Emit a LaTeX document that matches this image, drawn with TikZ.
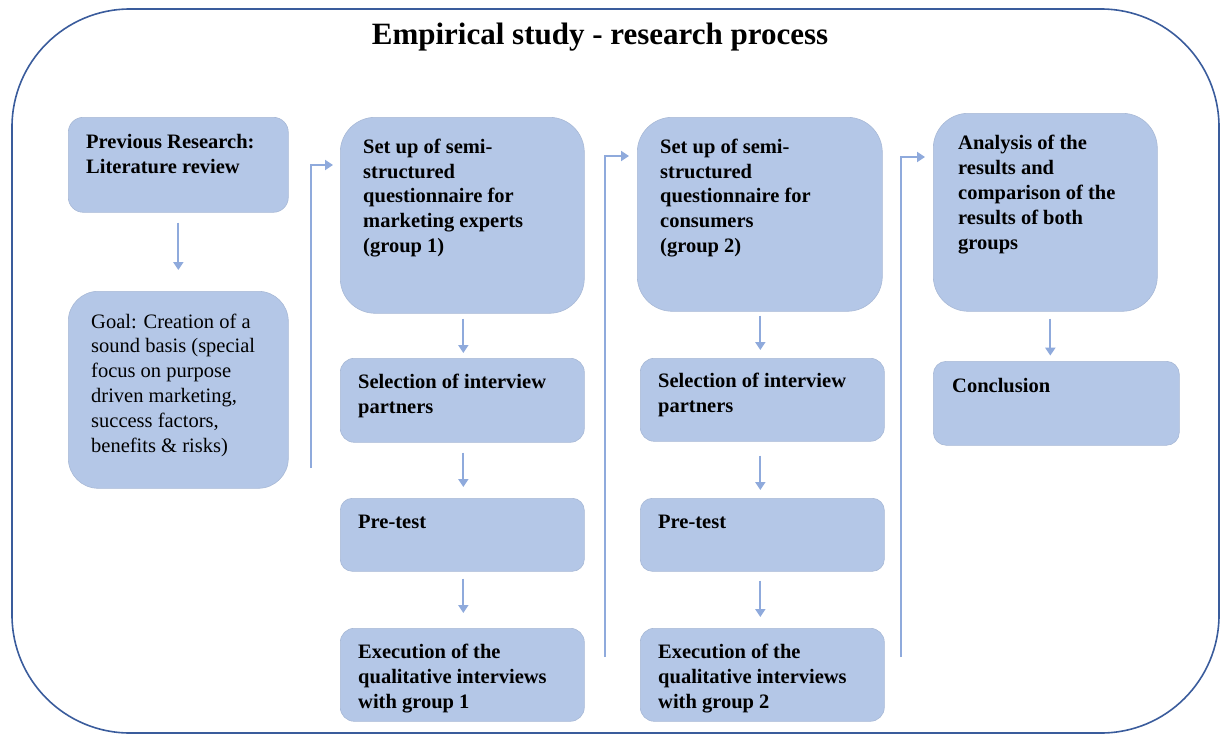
\documentclass[tikz,border=0pt]{standalone}
\usepackage{fontspec}
\setmainfont{Liberation Serif}
\usetikzlibrary{arrows.meta,calc}
\definecolor{boxfill}{RGB}{180,199,231}
\definecolor{boxline}{RGB}{168,185,214}
\definecolor{arrowblue}{RGB}{143,170,220}
\definecolor{frameblue}{RGB}{58,92,156}
\tikzset{
  stepbox/.style={draw=boxline, line width=0.6pt, fill=boxfill, inner sep=0pt, anchor=north west},
  % labels are placed by the baseline of their last line
  lbl/.style={anchor=base west, inner sep=0pt, align=left,
    font=\fontsize{20.5}{24.8}\selectfont\bfseries},
  lblplain/.style={lbl, font=\fontsize{20.5}{24.8}\selectfont},
  arr/.style={draw=arrowblue, line width=2pt,
    -{Triangle[width=10pt,length=8pt]}},
}
\begin{document}
\begin{tikzpicture}[x=1pt,y=-1pt]
\useasboundingbox (0,0) rectangle (1220,734);

% outer frame
\draw[frameblue, line width=1.6pt, rounded corners=118pt] (12,9) rectangle (1219,733);

% title
\node[anchor=base, inner sep=0pt, font=\fontsize{31}{36}\selectfont\bfseries]
  (title) at (600,44) {Empirical study - research process};

% literature column
\node[stepbox, rounded corners=15pt, minimum width=220pt, minimum height=95pt] (lit) at (68,117) {};
\node[lbl] (litT) at (86,173) {Previous Research:\\Literature review};
\node[stepbox, rounded corners=30pt, minimum width=220pt, minimum height=197pt] (goal) at (68,291) {};
\node[lblplain] (goalT) at (91,452) {Goal: Creation of a\\sound basis (special\\focus on purpose\\driven marketing,\\success factors,\\benefits \& risks)};

% group 1 column
\node[stepbox, rounded corners=35pt, minimum width=244pt, minimum height=196pt] (su1) at (340,117) {};
\node[lbl] (su1T) at (363,252.5) {Set up of semi-\\structured\\questionnaire for\\marketing experts\\(group 1)};
\node[stepbox, rounded corners=14pt, minimum width=244pt, minimum height=84pt] (sel1) at (340,358) {};
\node[lbl] (sel1T) at (358,413) {Selection of interview\\partners};
\node[stepbox, rounded corners=12pt, minimum width=244pt, minimum height=73pt] (pre1) at (340,498) {};
\node[lbl] (pre1T) at (358,528) {Pre-test};
\node[stepbox, rounded corners=14pt, minimum width=244pt, minimum height=93pt] (ex1) at (340,628) {};
\node[lbl] (ex1T) at (358,708) {Execution of the\\qualitative interviews\\with group 1};

% group 2 column
\node[stepbox, rounded corners=35pt, minimum width=245pt, minimum height=194pt] (su2) at (637,117) {};
\node[lbl] (su2T) at (660,252.5) {Set up of semi-\\structured\\questionnaire for\\consumers\\(group 2)};
\node[stepbox, rounded corners=14pt, minimum width=244pt, minimum height=83pt] (sel2) at (640,358) {};
\node[lbl] (sel2T) at (658,412.5) {Selection of interview\\partners};
\node[stepbox, rounded corners=12pt, minimum width=244pt, minimum height=73pt] (pre2) at (640,498) {};
\node[lbl] (pre2T) at (658,528) {Pre-test};
\node[stepbox, rounded corners=14pt, minimum width=244pt, minimum height=93pt] (ex2) at (640,628) {};
\node[lbl] (ex2T) at (658,708) {Execution of the\\qualitative interviews\\with group 2};

% analysis column
\node[stepbox, rounded corners=35pt, minimum width=224pt, minimum height=198pt] (ana) at (933,113) {};
\node[lbl] (anaT) at (958,249) {Analysis of the\\results and\\comparison of the\\results of both\\groups};
\node[stepbox, rounded corners=13pt, minimum width=246pt, minimum height=84pt] (con) at (933,361) {};
\node[lbl] (conT) at (952,392) {Conclusion};

% vertical arrows
\draw[arr] ($(lit.south)+(0,10)$) -- ($(goal.north)+(0,-21)$);
\draw[arr] ($(su1.south)+(1,5)$) -- ($(sel1.north)+(1,-5)$);
\draw[arr] ($(sel1.south)+(1,10)$) -- ($(pre1.north)+(1,-11)$);
\draw[arr] ($(pre1.south)+(1,7)$) -- ($(ex1.north)+(1,-15)$);
\draw[arr] ($(su2.south)+(0.5,4)$) -- ($(sel2.north)+(-2,-8)$);
\draw[arr] ($(sel2.south)+(-2,14)$) -- ($(pre2.north)+(-2,-8)$);
\draw[arr] ($(pre2.south)+(-2,9)$) -- ($(ex2.north)+(-2,-11)$);
\draw[arr] ($(ana.south)+(5,7)$) -- ($(ana.south)+(5,44)$);

% elbow connectors between columns
\coordinate (j1) at (311,468);
\coordinate (j2) at (605,657);
\coordinate (j3) at (901,657);
\draw[arr] (j1) |- ($(su1.north west)+(-7,48)$);
\draw[arr] (j2) |- ($(su2.north west)+(-8,39)$);
\draw[arr] (j3) |- ($(ana.north west)+(-8,44)$);
\end{tikzpicture}
\end{document}
